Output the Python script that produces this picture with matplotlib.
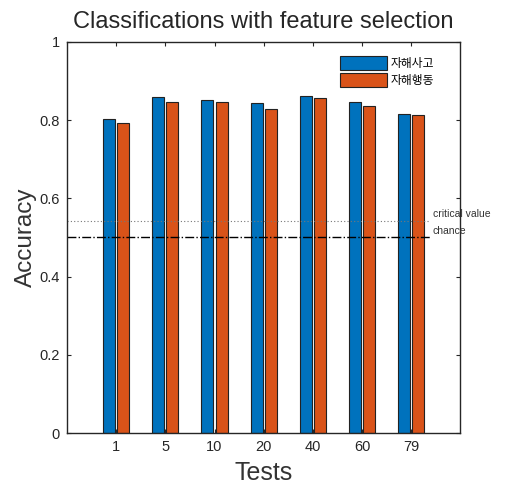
import matplotlib.pyplot as plt
import numpy as np

plt.rcParams['font.family'] = ['Liberation Sans', 'Noto Sans CJK KR', 'DejaVu Sans']

# data
tests = ['1', '5', '10', '20', '40', '60', '79']
thought = [0.803, 0.859, 0.850, 0.844, 0.861, 0.845, 0.816]    # 자해사고
behavior = [0.793, 0.845, 0.845, 0.829, 0.857, 0.836, 0.813]   # 자해행동
series_names = ['자해사고', '자해행동']
critical_value = 0.542
chance = 0.5

fig = plt.figure(figsize=(5.08, 4.86), dpi=100)
ax = fig.add_axes([0.132, 0.109, 0.774, 0.805])

x = np.arange(1, len(tests) + 1)
w = 0.245
ax.bar(x - 0.143, thought, w, color='#0072BD', edgecolor='#222222', linewidth=0.8, label=series_names[0])
ax.bar(x + 0.143, behavior, w, color='#D95319', edgecolor='#222222', linewidth=0.8, label=series_names[1])

# reference lines
line_x = [0, 7.38]
ax.plot(line_x, [critical_value] * 2, linestyle=(0, (1, 2)), color='#777777', linewidth=0.8)
ax.plot(line_x, [chance] * 2, linestyle='-.', color='black', linewidth=1.0)
ax.text(7.44, critical_value + 0.005, 'critical value', fontsize=7.5, va='bottom', color='#333333')
ax.text(7.44, chance + 0.004, 'chance', fontsize=7.5, va='bottom', color='#333333')

ax.set_xlim(0, 8)
ax.set_ylim(0, 1)
ax.set_xticks(x)
ax.set_xticklabels(tests)
ax.set_yticks([0, 0.2, 0.4, 0.6, 0.8, 1])
ax.set_yticklabels(['0', '0.2', '0.4', '0.6', '0.8', '1'])
ax.tick_params(direction='in', top=True, right=True, labelsize=10.5, length=3, pad=5,
               colors='#262626')
for s in ax.spines.values():
    s.set_color('#262626')
    s.set_linewidth(1.0)

ax.set_title('Classifications with feature selection', fontsize=17, color='#262626', pad=10)
ax.set_ylabel('Accuracy', fontsize=17.5, color='#333333', labelpad=2)
ax.set_xlabel('Tests', fontsize=18, color='#333333', labelpad=5)

ax.legend(loc='upper right', bbox_to_anchor=(0.96, 0.99), frameon=False, fontsize=8.5,
          handlelength=4.0, handleheight=1.45, labelspacing=0.25, handletextpad=0.3)

fig.savefig('out.png', dpi=100)
